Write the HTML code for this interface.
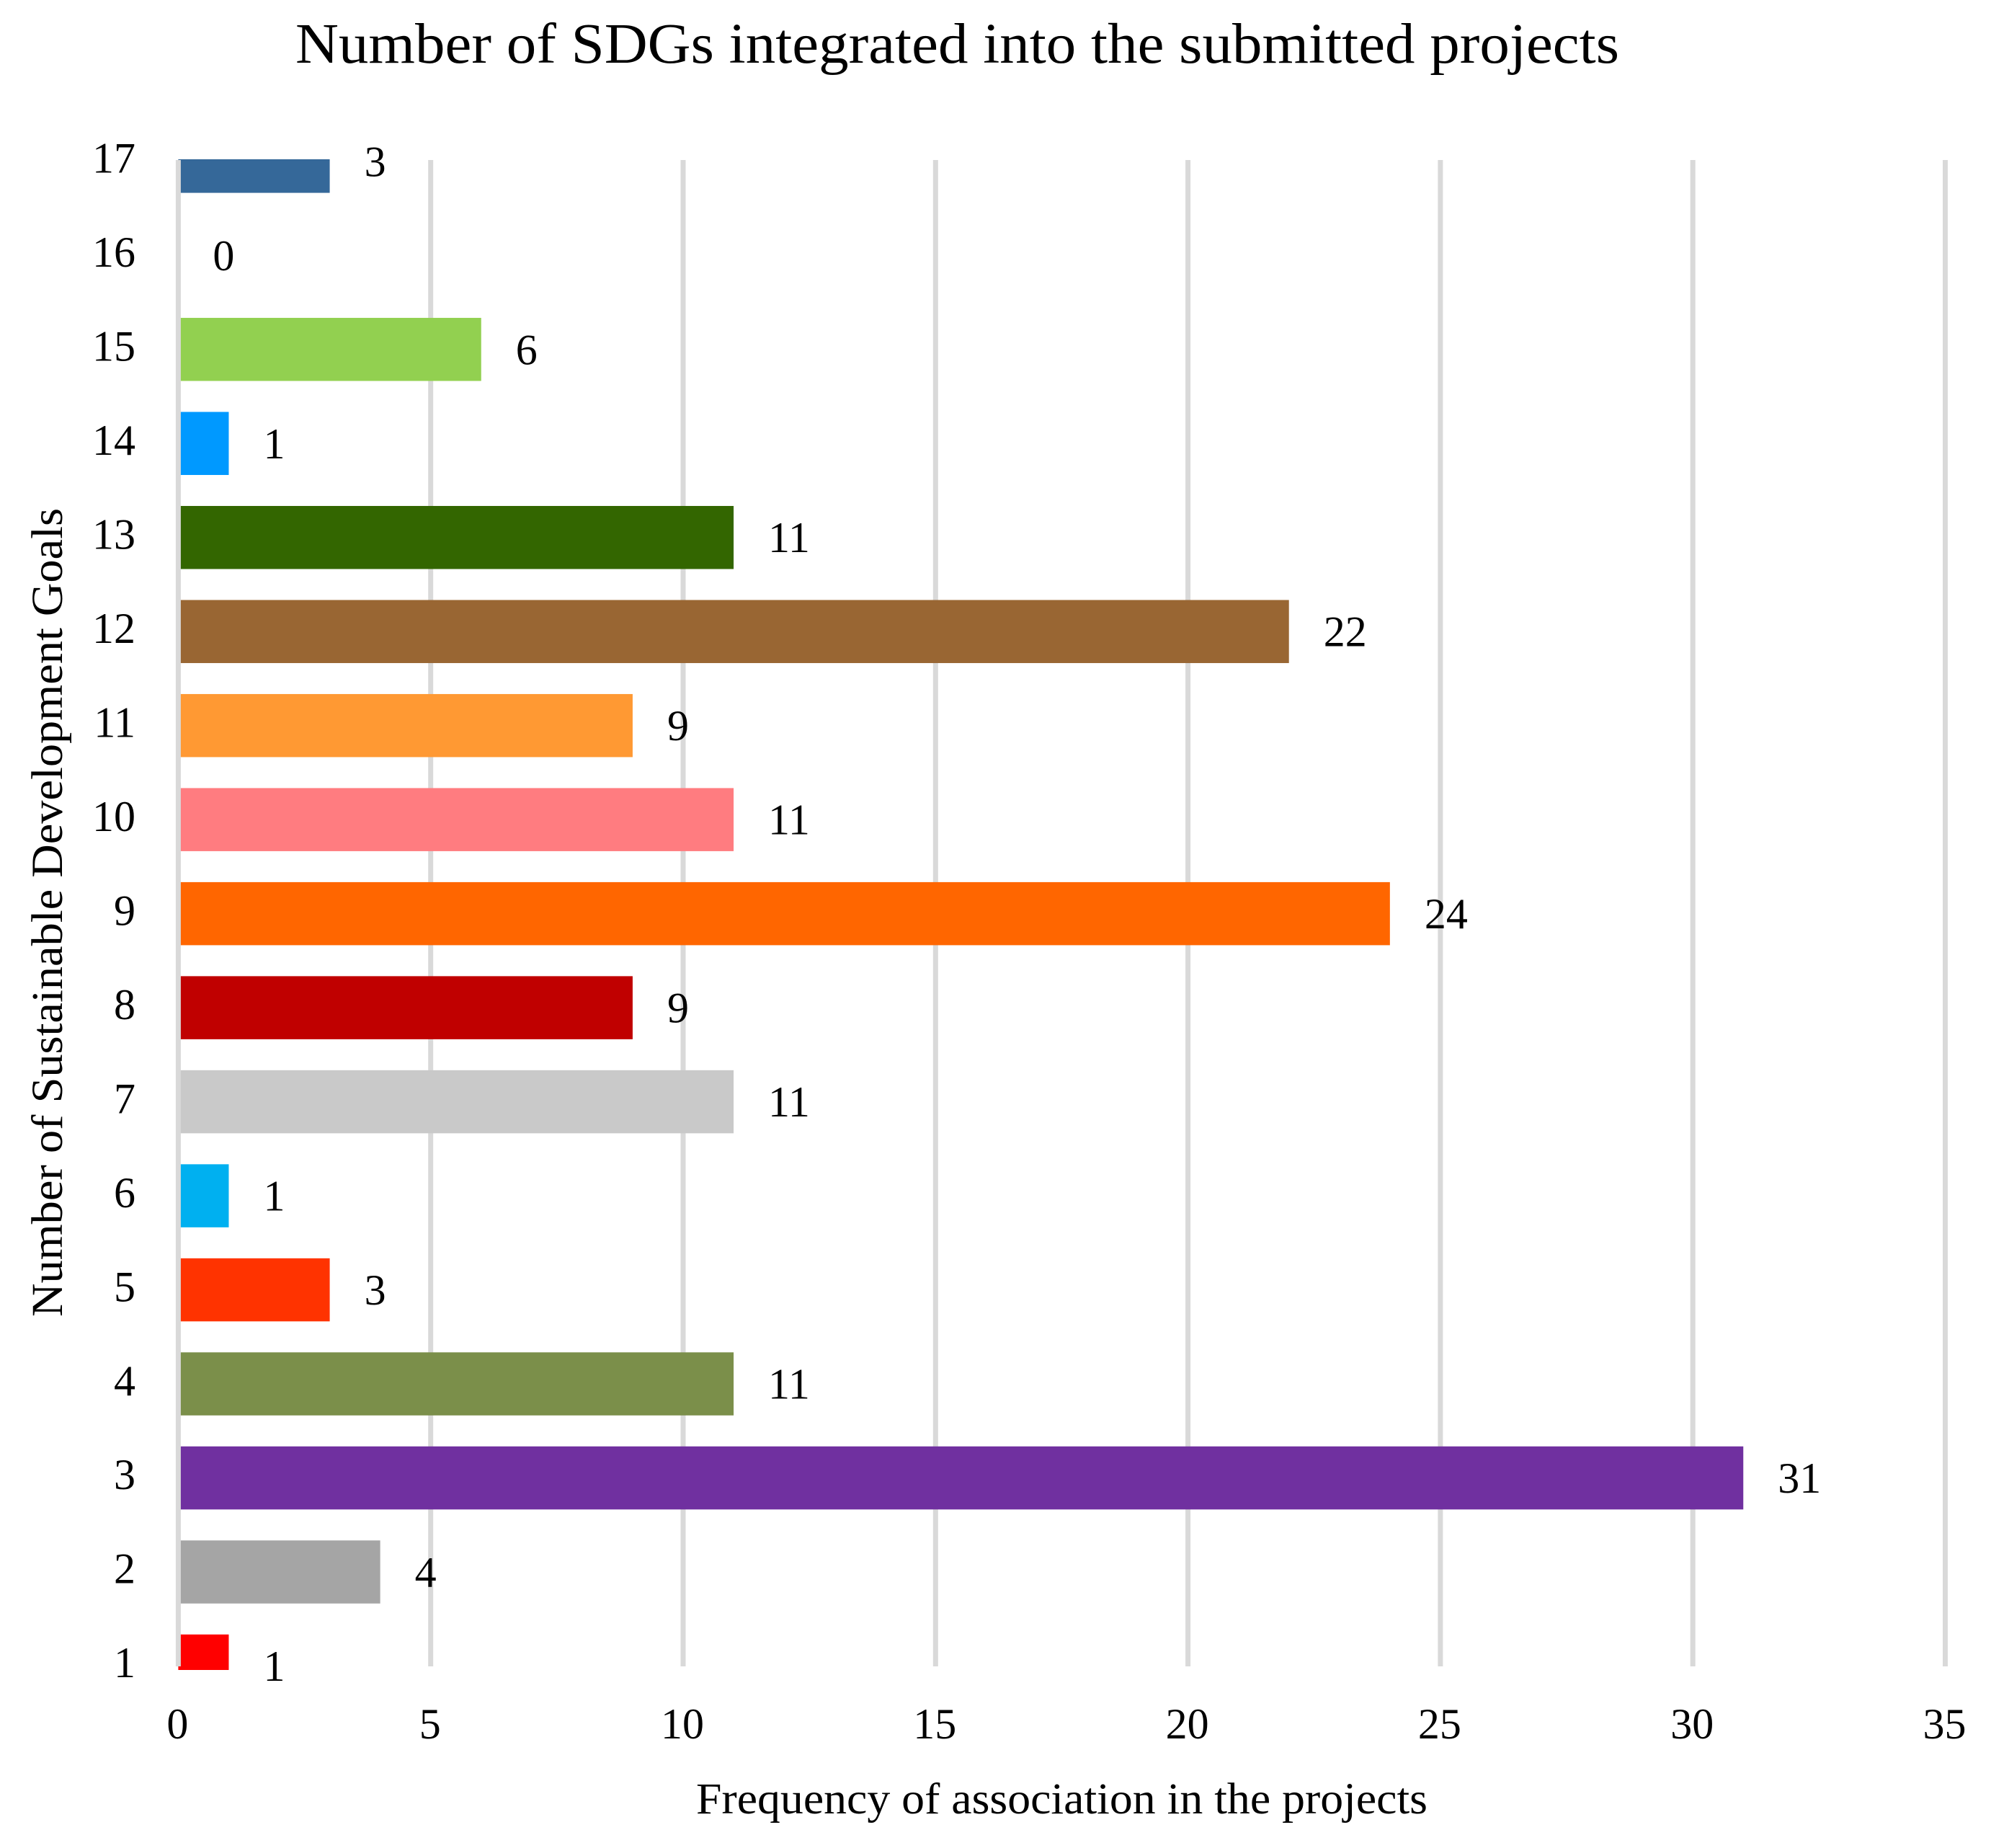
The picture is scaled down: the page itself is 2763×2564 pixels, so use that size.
<!DOCTYPE html>
<html lang="en">
<head>
<meta charset="utf-8">
<title>Number of SDGs integrated into the submitted projects</title>
<style>
  html, body { margin: 0; padding: 0; background: #fff; }
  svg { display: block; }
  text { font-family: "Liberation Serif", serif; fill: #000; }
</style>
</head>
<body>
<svg id="chart" xmlns="http://www.w3.org/2000/svg" width="2763" height="2564" viewBox="0 0 2763 2564">
  <rect x="0" y="0" width="2763" height="2564" fill="#ffffff"/>
  <defs>
    <clipPath id="plot-clip"><rect x="240" y="221" width="2480" height="2096"/></clipPath>
  </defs>
  <text x="410" y="87" font-size="79" textLength="1837" lengthAdjust="spacingAndGlyphs">Number of SDGs integrated into the submitted projects</text>
  <g id="grid"></g>
  <g id="bars" clip-path="url(#plot-clip)"></g>
  <g id="axis-line"></g>
  <g id="y-ticks"></g>
  <g id="x-ticks"></g>
  <g id="values"></g>
  <text x="966" y="2516" font-size="61" textLength="1015" lengthAdjust="spacingAndGlyphs">Frequency of association in the projects</text>
  <text transform="translate(86 1827) rotate(-90)" x="0" y="0" font-size="61" textLength="1122" lengthAdjust="spacingAndGlyphs">Number of Sustainable Development Goals</text>
</svg>
<script>
const categories = [1, 2, 3, 4, 5, 6, 7, 8, 9, 10, 11, 12, 13, 14, 15, 16, 17];
const frequencies = [1, 4, 31, 11, 3, 1, 11, 9, 24, 11, 9, 22, 11, 1, 6, 0, 3];
const xTickValues = [0, 5, 10, 15, 20, 25, 30, 35];
const barColors = ['#FF0000', '#A5A5A5', '#7030A0', '#7B8F4A', '#FF3300', '#00B0F0', '#C9C9C9', '#C00000', '#FF6600', '#FF7C80', '#FF9933', '#996633', '#336600', '#0099FF', '#92D050', '#FFFFFF', '#356899'];

const SVG_NS = 'http://www.w3.org/2000/svg';
function xScale(v) { return 247.4 + v * 70.06; }
function yScale(c) { return 2311.5 - (c - 1) * 130.48; }
const BAR_HEIGHT = 87.5;

const gridGroup = document.getElementById('grid');
const barGroup = document.getElementById('bars');
const axisGroup = document.getElementById('axis-line');
const yTickGroup = document.getElementById('y-ticks');
const xTickGroup = document.getElementById('x-ticks');
const valueGroup = document.getElementById('values');

function makeLine(v) {
  const line = document.createElementNS(SVG_NS, 'line');
  line.setAttribute('x1', xScale(v));
  line.setAttribute('x2', xScale(v));
  line.setAttribute('y1', 222);
  line.setAttribute('y2', 2312);
  line.setAttribute('stroke', '#D9D9D9');
  line.setAttribute('stroke-width', 7);
  return line;
}

xTickValues.forEach(function (v) {
  const line = makeLine(v);
  
  
  if (v === 0) { axisGroup.appendChild(line); } else { gridGroup.appendChild(line); }

  const label = document.createElementNS(SVG_NS, 'text');
  
  
  label.setAttribute('x', xScale(v) - 1);
  label.setAttribute('y', 2412);
  label.setAttribute('font-size', 60);
  label.setAttribute('text-anchor', 'middle');
  label.textContent = v;
  xTickGroup.appendChild(label);
});

categories.forEach(function (c, i) {
  const v = frequencies[i];
  const cy = yScale(c);

  if (v > 0) {
    const bar = document.createElementNS(SVG_NS, 'rect');
    
    
    bar.setAttribute('x', xScale(0));
    bar.setAttribute('y', cy - BAR_HEIGHT / 2);
    bar.setAttribute('width', xScale(v) - xScale(0));
    bar.setAttribute('height', BAR_HEIGHT);
    bar.setAttribute('fill', barColors[i]);
    barGroup.appendChild(bar);
  }

  const tick = document.createElementNS(SVG_NS, 'text');
  
  
  tick.setAttribute('x', 188);
  tick.setAttribute('y', cy + 15.7);
  tick.setAttribute('font-size', 60);
  tick.setAttribute('text-anchor', 'end');
  tick.textContent = c;
  yTickGroup.appendChild(tick);

  const valueLabel = document.createElementNS(SVG_NS, 'text');
  
  
  valueLabel.setAttribute('x', xScale(v) + 48);
  valueLabel.setAttribute('y', cy + 20.5);
  valueLabel.setAttribute('font-size', 60);
  valueLabel.textContent = v;
  valueGroup.appendChild(valueLabel);
});
</script>
</body>
</html>
